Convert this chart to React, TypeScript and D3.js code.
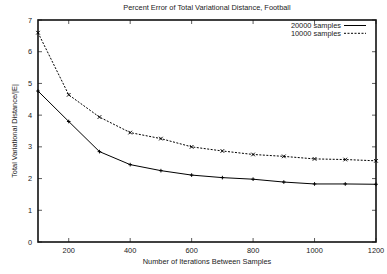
import React from "react";
import * as d3 from "d3";

const iterations = [100, 200, 300, 400, 500, 600, 700, 800, 900, 1000, 1100, 1200];
const samples20000 = [4.76, 3.8, 2.85, 2.44, 2.25, 2.11, 2.03, 1.98, 1.89, 1.83, 1.83, 1.82];
const samples10000 = [6.6, 4.64, 3.94, 3.45, 3.26, 3.0, 2.87, 2.76, 2.7, 2.62, 2.6, 2.56];
const xTicks = [200, 400, 600, 800, 1000, 1200];
const yTicks = [0, 1, 2, 3, 4, 5, 6, 7];
const seriesNames = ["20000 samples", "10000 samples"];

const W = 387, H = 274;
const margin = { top: 20, right: 11, bottom: 32, left: 38 };
const font = "'Liberation Sans', Arial, sans-serif";
const fs = 7.4;

export default function App() {
  const innerW = W - margin.left - margin.right;
  const innerH = H - margin.top - margin.bottom;
  const x = d3.scaleLinear().domain([100, 1200]).range([margin.left, margin.left + innerW]);
  const y = d3.scaleLinear().domain([0, 7]).range([margin.top + innerH, margin.top]);
  const line = d3.line<number>()
    .x((d, i) => x(iterations[i]))
    .y(d => y(d));
  const series = [
    { name: seriesNames[0], values: samples20000, dash: undefined as string | undefined, marker: "plus" },
    { name: seriesNames[1], values: samples10000, dash: "2,1.5", marker: "cross" },
  ];
  const tk = 4;
  const x0 = margin.left, x1 = margin.left + innerW, y0 = margin.top + innerH, y1 = margin.top;
  const legendStep = 7.8;

  return (
    <svg width={W} height={H} style={{ position: "absolute", left: 0, top: 0, background: "#fff" }}
      fontFamily={font}>
      <text x={(x0 + x1) / 2} y={10} fontSize={fs} textAnchor="middle" fill="#222">
        Percent Error of Total Variational Distance, Football
      </text>
      {/* ticks */}
      {xTicks.map(t => (
        <g key={"x" + t}>
          <line x1={x(t)} x2={x(t)} y1={y0} y2={y0 - tk} stroke="#333" strokeWidth={0.8} />
          <line x1={x(t)} x2={x(t)} y1={y1} y2={y1 + tk} stroke="#333" strokeWidth={0.8} />
          <text x={x(t)} y={y0 + 11} fontSize={fs} textAnchor="middle" fill="#222">{t}</text>
        </g>
      ))}
      {yTicks.map(t => (
        <g key={"y" + t}>
          <line x1={x0} x2={x0 + tk} y1={y(t)} y2={y(t)} stroke="#333" strokeWidth={0.8} />
          <line x1={x1} x2={x1 - tk} y1={y(t)} y2={y(t)} stroke="#333" strokeWidth={0.8} />
          <text x={x0 - 6} y={y(t) + 2.5} fontSize={fs} textAnchor="end" fill="#222">{t}</text>
        </g>
      ))}
      <rect x={x0} y={y1} width={innerW} height={innerH} fill="none" stroke="#111" strokeWidth={1.6} />
      {series.map(s => (
        <g key={s.name}>
          <path d={line(s.values) || ""} fill="none" stroke="#000" strokeWidth={1}
            strokeDasharray={s.dash} />
          {s.values.map((v, i) => {
            const cx = x(iterations[i]), cy = y(v), r = 1.8;
            return s.marker === "plus" ? (
              <path key={i} d={`M${cx - r},${cy}H${cx + r}M${cx},${cy - r}V${cy + r}`} stroke="#000" strokeWidth={1} />
            ) : (
              <path key={i} d={`M${cx - r},${cy - r}L${cx + r},${cy + r}M${cx - r},${cy + r}L${cx + r},${cy - r}`} stroke="#000" strokeWidth={1} />
            );
          })}
        </g>
      ))}
      {/* legend */}
      {series.map((s, i) => (
        <g key={"lg" + i}>
          <text x={341} y={28 + i * legendStep} fontSize={fs} textAnchor="end" fill="#222">{s.name}</text>
          <line x1={344} x2={366} y1={25.5 + i * legendStep} y2={25.5 + i * legendStep} stroke="#000" strokeWidth={1}
            strokeDasharray={s.dash} />
        </g>
      ))}
      <text x={(x0 + x1) / 2} y={264} fontSize={fs} textAnchor="middle" fill="#222">
        Number of Iterations Between Samples
      </text>
      <text transform={`translate(17,${(y0 + y1) / 2}) rotate(-90)`} fontSize={fs} textAnchor="middle" fill="#222">
        Total Variational Distance/|E|
      </text>
    </svg>
  );
}
